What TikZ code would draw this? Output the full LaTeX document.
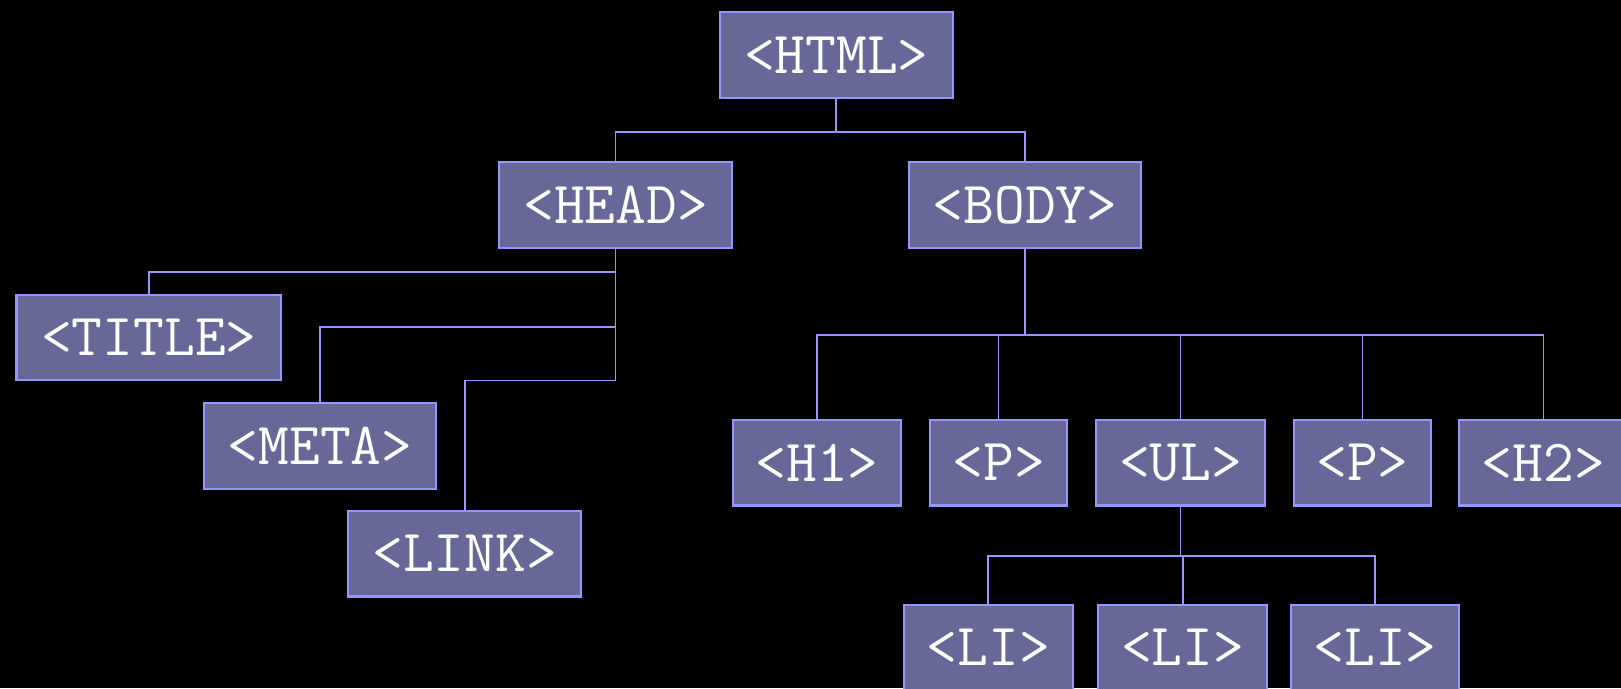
\documentclass[tikz,border=0pt]{standalone}
\usepackage{xcolor}
\usetikzlibrary{calc}
\definecolor{tagfill}{RGB}{104,104,152}
\definecolor{tagline}{RGB}{150,150,255}

\begin{document}
\begin{tikzpicture}[x=0.1mm, y=-0.1mm,
  tag/.style={rectangle, draw=tagline, line width=0.6pt, fill=tagfill, text=white,
    font=\fontsize{17}{20}\selectfont\ttfamily, inner sep=0pt,
    minimum height=0.858cm, minimum width=2.326cm},
  tagfour/.style={tag, minimum width=1.686cm},
  tagthree/.style={tag, minimum width=1.366cm},
  link/.style={draw=tagline, line width=0.5pt}]

\fill[black] (0,0) rectangle (1621,688);
\useasboundingbox (0,0) rectangle (1621,688);

% root and first level
\node[tag] (html) at (836.3,54.8) {<HTML>};
\node[tag] (head) at (615.6,205.2) {<HEAD>};
\node[tag] (body) at (1025,205.2) {<BODY>};

% head children
\node[tag, minimum width=2.647cm] (title) at (148.9,337.5) {<TITLE>};
\node[tag] (meta) at (320,446.1) {<META>};
\node[tag] (linktag) at (464.7,553.6) {<LINK>};

% body children
\node[tagfour] (h1) at (817,462.6) {<H1>};
\node[tagthree] (p1) at (998.6,462.6) {<P>};
\node[tagfour] (ul) at (1180.6,462.6) {<UL>};
\node[tagthree] (p2) at (1362.5,462.6) {<P>};
\node[tagfour] (h2) at (1543.4,462.6) {<H2>};

% list items
\node[tagfour] (li1) at (988.3,647.7) {<LI>};
\node[tagfour] (li2) at (1182.7,647.7) {<LI>};
\node[tagfour] (li3) at (1375,647.7) {<LI>};

% connectors
\foreach \n in {head,body}
  \draw[link] (html.south) -- ++(0,33) -| (\n.north);

\draw[link] (head.south) -- ++(0,22.8) -| (title.north);
\draw[link] (head.south) -- ++(0,77.5) -| (meta.north);
\draw[link] (head.south) -- ++(0,131.3) -| (linktag.north);

\foreach \n in {h1,p1,ul,p2,h2}
  \draw[link] (body.south) -- ++(0,85.8) -| (\n.north);

\foreach \n in {li1,li2,li3}
  \draw[link] (ul.south) -- ++(0,49.7) -| (\n.north);

\end{tikzpicture}
\end{document}
